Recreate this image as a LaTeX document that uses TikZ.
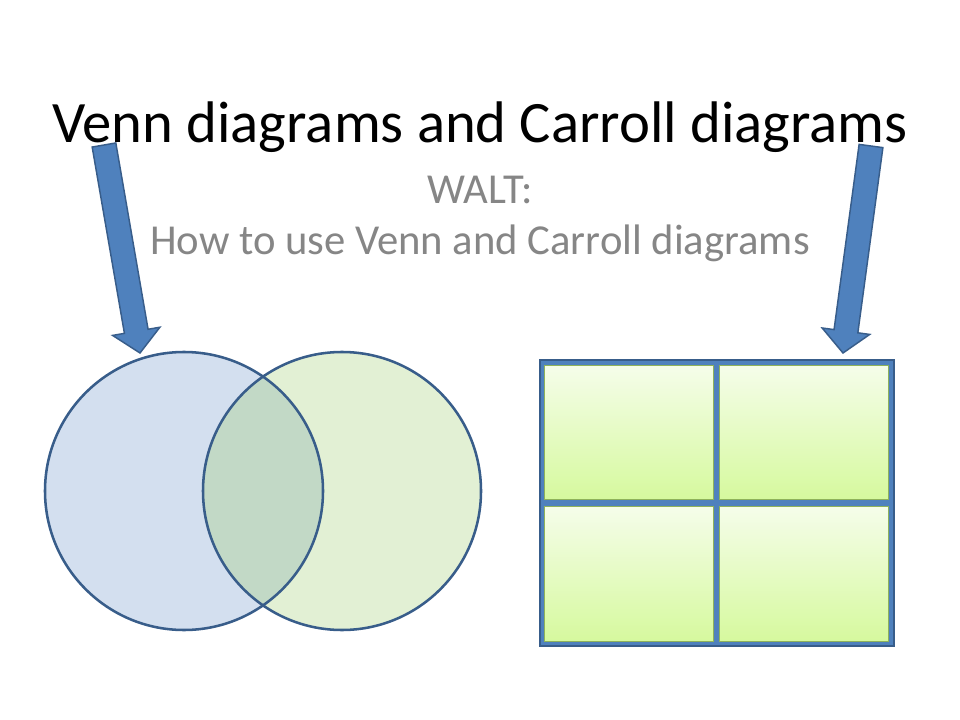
\documentclass[tikz,border=0pt]{standalone}
\usepackage{fontspec}
\setmainfont{Carlito}
\usetikzlibrary{calc}
\definecolor{ablue}{HTML}{4F81BD}
\definecolor{dblue}{HTML}{385D8A}
\definecolor{vblue}{HTML}{D3DFEF}
\definecolor{vgreen}{HTML}{E2F0D4}
\definecolor{vmix}{HTML}{C2D9C6}
\definecolor{ctop}{HTML}{F5FDEA}
\definecolor{cbot}{HTML}{D6F99E}
\definecolor{cedge}{HTML}{8FB25A}
\definecolor{subgray}{HTML}{868686}
\tikzset{
  bigarrow/.style={fill=ablue, draw=dblue, line width=1.1pt, line join=miter},
  vennline/.style={draw=dblue, line width=1.9pt},
  frame/.style={fill=ablue, draw=dblue, line width=0.8pt},
  cell/.style={draw=cedge, line width=0.5pt, top color=ctop, bottom color=cbot, inner sep=0pt},
  titletext/.style={font=\fontsize{44}{52}\selectfont, text=black, anchor=base, inner sep=0pt},
  subtext/.style={font=\fontsize{32}{38}\selectfont, text=subgray, anchor=base, inner sep=0pt}
}
\begin{document}
\begin{tikzpicture}[x=0.75pt, y=-0.75pt]
\useasboundingbox (0,0) rectangle (960,720);
\fill[white] (0,0) rectangle (960,720);

% texts
\node[titletext] (title) at (480,143) {Venn diagrams and Carroll diagrams};
\node[subtext] (walt) at (480,204) {WALT:};
\node[subtext] (how) at (480,255) {How to use Venn and Carroll diagrams};

% Venn diagram
\coordinate (cA) at (184,491);
\coordinate (cB) at (342,491);
\fill[vblue] (cA) circle (139);
\fill[vgreen] (cB) circle (139);
\begin{scope}
  \clip (cA) circle (139);
  \fill[vmix] (cB) circle (139);
\end{scope}
\draw[vennline] (cA) circle (139);
\draw[vennline] (cB) circle (139);
\coordinate (venntop) at (140,353);

% Carroll diagram
\path[frame] (540,360) rectangle (894,646);
\node[cell, minimum width=126.75pt, minimum height=100.5pt] (cellTL) at (628.5,432) {};
\node[cell, minimum width=126.75pt, minimum height=100.5pt] (cellTR) at (803.5,432) {};
\node[cell, minimum width=126.75pt, minimum height=101.25pt] (cellBL) at (628.5,573.5) {};
\node[cell, minimum width=126.75pt, minimum height=101.25pt] (cellBR) at (803.5,573.5) {};
\coordinate (carrtop) at (843,353);

% arrows
\coordinate (tailL) at (104,145);
\coordinate (tailR) at (871,146);
\foreach \t/\h in {tailL/venntop, tailR/carrtop}{
  \coordinate (hb) at ($(\h)!16.5pt!(\t)$);
  \path[bigarrow]
    ($(\t)!9pt!90:(\h)$) -- ($(hb)!9pt!-90:(\t)$) -- ($(hb)!18pt!-90:(\t)$) -- (\h)
    -- ($(hb)!18pt!90:(\t)$) -- ($(hb)!9pt!90:(\t)$) -- ($(\t)!9pt!-90:(\h)$) -- cycle;
}
\end{tikzpicture}
\end{document}
